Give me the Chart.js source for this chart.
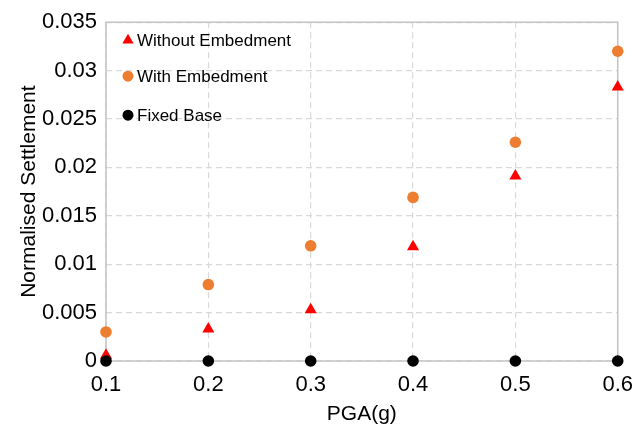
<!DOCTYPE html>
<html>
<head>
<meta charset="utf-8">
<script src="https://cdn.jsdelivr.net/npm/chart.js@4"></script>
<style>
  html, body { margin: 0; padding: 0; background: #fff; }
  #wrap { width: 644px; height: 431px; }
</style>
</head>
<body>
<div id="wrap"><canvas id="myChart" width="644" height="431"></canvas></div>
<script>
// PGA values (g)
const pga = [0.1, 0.2, 0.3, 0.4, 0.5, 0.6]
// normalised settlement per case
const withoutEmbed = [0.0006, 0.0033, 0.0053, 0.0118, 0.0191, 0.0283]
const withEmbed = [0.003, 0.0079, 0.0119, 0.0169, 0.0226, 0.032]
const fixedBase = [0, 0, 0, 0, 0, 0]
const yTickLabels = ["0", "0.005", "0.01", "0.015", "0.02", "0.025", "0.03", "0.035"]
const xTickLabels = ["0.1", "0.2", "0.3", "0.4", "0.5", "0.6"]

function pts(ys) {
  return pga.map((x, i) => ({ x: x, y: ys[i] }))
}

Chart.defaults.font.family = "'Liberation Sans', Arial, sans-serif"
Chart.defaults.color = "#000"

// solid frame around plot area
const frame = {
  id: "frame",
  beforeDatasetsDraw(chart) {
    const a = chart.chartArea
    const c = chart.ctx
    c.save()
    c.strokeStyle = "#c4c4c4"
    c.lineWidth = 1.5
    c.strokeRect(a.left, a.top, a.right - a.left, a.bottom - a.top)
    c.restore()
  }
}

// legend inside the plot, top left
const insideLegend = {
  id: "insideLegend",
  afterDatasetsDraw(chart) {
    const a = chart.chartArea
    const c = chart.ctx
    const rows = [18, 54, 93]
    c.save()
    c.font = "17px 'Liberation Sans', Arial, sans-serif"
    c.textBaseline = "middle"
    chart.data.datasets.forEach((ds, i) => {
      const y = a.top + rows[i]
      c.fillStyle = ds.backgroundColor
      Chart.helpers.drawPoint(c, {
        pointStyle: ds.pointStyle,
        radius: ds.pointStyle == "triangle" ? 6.5 : 5.5,
        borderWidth: 0,
        rotation: 0
      }, a.left + 22, y)
      c.fillStyle = "#000"
      c.fillText(ds.label, a.left + 31, y + 1)
    })
    c.restore()
  }
}

const chart = new Chart("myChart", {
  type: "scatter",
  data: {
    datasets: [{
        label: "Without Embedment",
        data: pts(withoutEmbed),
        pointStyle: "triangle",
        pointRadius: 7,
        backgroundColor: "#ff0000",
        borderColor: "#ff0000",
        borderWidth: 0,
        order: 3,
        clip: false
      },{
        label: "With Embedment",
        data: pts(withEmbed),
        pointStyle: "circle",
        pointRadius: 5.8,
        backgroundColor: "#ed7d31",
        borderColor: "#ed7d31",
        borderWidth: 0,
        order: 2,
        clip: false
      },{
        label: "Fixed Base",
        data: pts(fixedBase),
        pointStyle: "circle",
        pointRadius: 5.8,
        backgroundColor: "#000",
        borderColor: "#000",
        borderWidth: 0,
        order: 1,
        clip: false
      }
    ]
  },
  options: {
    responsive: false,
    animation: false,
    layout: { padding: { top: 19, right: 23, left: 0, bottom: 0 } },
    plugins: {
      tooltip: { enabled: false },
      legend: { display: false }
    },
    scales: {
      x: {
        type: "linear",
        min: 0.1,
        max: 0.6,
        ticks: {
          stepSize: 0.1,
          font: { size: 22 },
          padding: 11,
          callback: (v, i) => xTickLabels[i]
        },
        grid: { color: "#d9d9d9", lineWidth: 1.2, drawTicks: false },
        border: { display: false, dash: [6, 4] },
        title: { display: true, text: "PGA(g)", font: { size: 21 }, padding: { top: 4, bottom: 4 } },
        afterFit: (s) => { s.height = 70 }
      },
      y: {
        min: 0,
        max: 0.035,
        ticks: {
          stepSize: 0.005,
          font: { size: 22 },
          padding: 9,
          callback: (v, i) => yTickLabels[i]
        },
        grid: { color: "#d9d9d9", lineWidth: 1.2, drawTicks: false },
        border: { display: false, dash: [6, 4] },
        title: { display: true, text: "Normalised Settlement", font: { size: 21 }, padding: { top: 17, bottom: 0 } },
        afterFit: (s) => { s.width = 106 }
      }
    }
  },
  plugins: [frame, insideLegend]
})
</script>
</body>
</html>
